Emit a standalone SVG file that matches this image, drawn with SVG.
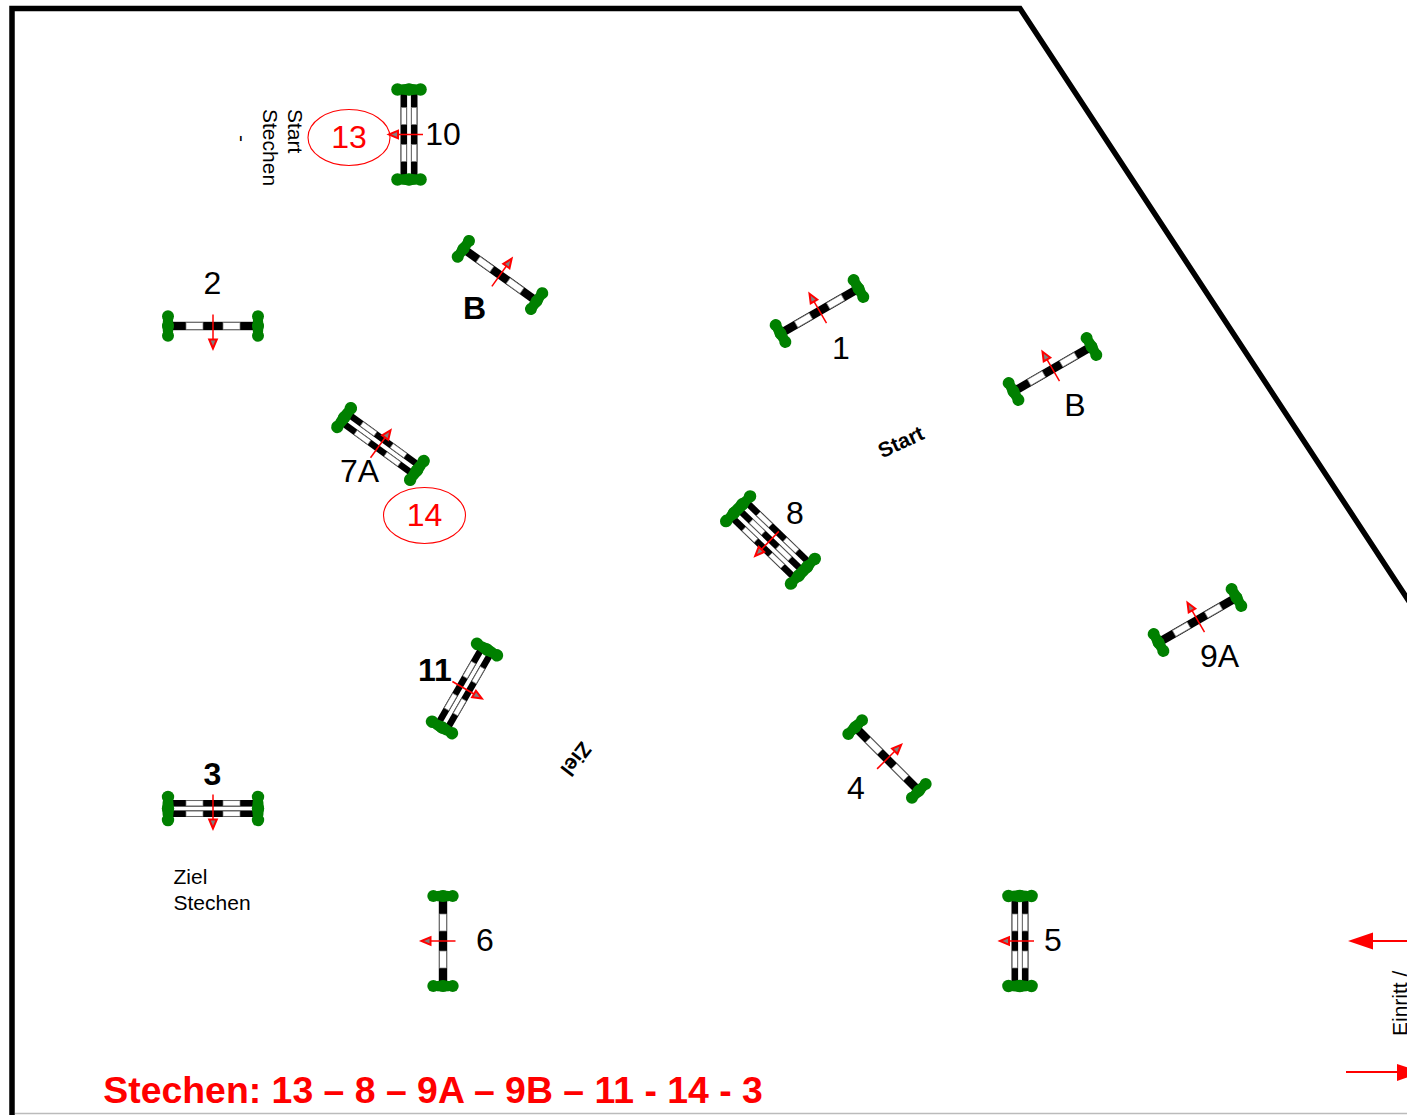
<svg xmlns="http://www.w3.org/2000/svg" xmlns:xlink="http://www.w3.org/1999/xlink" width="1407" height="1115" viewBox="0 0 1407 1115">
<style>
text{font-family:"Liberation Sans",Arial,sans-serif;fill:#000}
.n{font-size:32px;text-anchor:middle}
.b{font-weight:bold}
.r{fill:#f00}
.s{font-size:21px}
.t{fill:#008000}
.w{fill:#fff;stroke:#777;stroke-width:.7}
.a{stroke:#f00;stroke-width:1.5;fill:none}
.h{fill:#808080;stroke:#f00;stroke-width:2}
.o{fill:none;stroke:#f00;stroke-width:1.1}
.m{fill:#f00}
</style>
<defs>
<g id="bar8"><rect x="-41" y="-4.200" width="82" height="8.400" fill="#000"/><rect class="w" x="-27" y="-3.400" width="17" height="6.800"/><rect class="w" x="10" y="-3.400" width="17" height="6.800"/></g>
<g id="bar6"><rect x="-41" y="-3.300" width="82" height="6.600" fill="#000"/><rect class="w" x="-27" y="-2.600" width="17" height="5.200"/><rect class="w" x="10" y="-2.600" width="17" height="5.200"/></g>
<g id="t1" class="t"><ellipse cy="-9.700" rx="6" ry="6"/><ellipse rx="6" ry="6.500"/><ellipse cy="9.700" rx="6" ry="6"/><ellipse rx="5.500" ry="15"/></g>
<g id="t2" class="t"><ellipse cy="-11.500" rx="6.200" ry="6.300"/><ellipse rx="6.200" ry="6.500"/><ellipse cy="11.500" rx="6.200" ry="6.300"/><ellipse rx="5.800" ry="17"/></g>
<g id="t3" class="t"><ellipse cy="-17" rx="6.200" ry="6.500"/><ellipse cy="-6" rx="6.200" ry="6.500"/><ellipse cy="6" rx="6.200" ry="6.500"/><ellipse cy="17" rx="6.200" ry="6.500"/><ellipse rx="5.800" ry="22.500"/></g>
<g id="arrow"><path class="a" d="M0-14V12"/><path class="h" d="M0 20L-3.800 11H3.800Z"/></g>
<g id="j1"><use xlink:href="#bar8"/><use xlink:href="#t1" x="-45"/><use xlink:href="#t1" x="45"/></g>
<g id="j2"><use xlink:href="#bar6" y="-5.200"/><use xlink:href="#bar6" y="5.200"/><use xlink:href="#t2" x="-45"/><use xlink:href="#t2" x="45"/></g>
<g id="j3"><use xlink:href="#bar6" y="-10.500"/><use xlink:href="#bar6"/><use xlink:href="#bar6" y="10.500"/><use xlink:href="#t3" x="-45"/><use xlink:href="#t3" x="45"/></g>
</defs>
<g id="arena">
<path d="M12 1115V8.500H1020L1420 618" fill="none" stroke="#000" stroke-width="5.500"/>
<path d="M15 1113.500H1407" fill="none" stroke="#bbb" stroke-width="1.500"/>
</g>
<g id="jump-10"><g transform="translate(409 134.500) rotate(90)"><use xlink:href="#j2"/><use xlink:href="#arrow"/></g><text class="n" x="443" y="145">10</text></g>
<g id="label-13"><ellipse class="o" cx="349" cy="137.500" rx="41" ry="28"/><text class="n r" x="349" y="147.500">13</text></g>
<g id="start-stechen">
<text class="s" transform="translate(287.500 109) rotate(90)">Start</text>
<text class="s" transform="translate(262.500 109) rotate(90)">Stechen</text>
<text class="s" transform="translate(234.500 135) rotate(90)">-</text>
</g>
<g id="jump-2"><g transform="translate(213 326)"><use xlink:href="#j1"/><use xlink:href="#arrow" y="2.500"/></g><text class="n" x="212.500" y="294">2</text></g>
<g id="jump-b1"><g transform="translate(500 275) rotate(215.500)"><use xlink:href="#j1"/><use xlink:href="#arrow"/></g><text class="n b" x="474.500" y="319">B</text></g>
<g id="jump-1"><g transform="translate(819.500 311) rotate(150)"><use xlink:href="#j1"/><use xlink:href="#arrow"/></g><text class="n" x="841" y="359">1</text></g>
<g id="jump-b2"><g transform="translate(1052.500 369) rotate(150)"><use xlink:href="#j1"/><use xlink:href="#arrow"/></g><text class="n" x="1075" y="416">B</text></g>
<g id="jump-9a"><g transform="translate(1197.500 620) rotate(150)"><use xlink:href="#j1"/><use xlink:href="#arrow"/></g><text class="n" x="1219.500" y="667">9A</text></g>
<g id="jump-7a"><g transform="translate(380.500 444) rotate(216)"><use xlink:href="#j2"/><use xlink:href="#arrow" y="-3"/></g><text class="n" x="359.500" y="482">7A</text></g>
<g id="label-14"><ellipse class="o" cx="424.500" cy="515.500" rx="41" ry="28"/><text class="n r" x="424.500" y="525.500">14</text></g>
<g id="jump-8"><g transform="translate(770.500 540) rotate(44)"><use xlink:href="#j3"/><use xlink:href="#arrow" y="2"/></g><text class="n" x="795" y="524">8</text></g>
<g id="jump-11"><g transform="translate(464.500 688.500) rotate(-60)"><use xlink:href="#j2"/><use xlink:href="#arrow"/></g><text class="n b" x="435" y="681">11</text></g>
<g id="jump-4"><g transform="translate(887 759) rotate(225)"><use xlink:href="#j1"/><use xlink:href="#arrow"/></g><text class="n" x="856" y="799">4</text></g>
<g id="jump-3"><g transform="translate(213 808.500)"><use xlink:href="#j2"/><use xlink:href="#arrow"/></g><text class="n b" x="212.500" y="785">3</text></g>
<g id="jump-6"><g transform="translate(443 941) rotate(90)"><use xlink:href="#j1"/><use xlink:href="#arrow" y="1.500"/></g><text class="n" x="485" y="951">6</text></g>
<g id="jump-5"><g transform="translate(1020 941) rotate(90)"><use xlink:href="#j2"/><use xlink:href="#arrow"/></g><text class="n" x="1053" y="951">5</text></g>
<text class="b" font-size="21" transform="translate(901 442) rotate(-25)" text-anchor="middle" dy="7">Start</text>
<text class="b" font-size="21" transform="translate(576 759) rotate(128)" text-anchor="middle" dy="7">Ziel</text>
<g id="ziel-stechen"><text class="s" x="173.500" y="884">Ziel</text><text class="s" x="173.500" y="910">Stechen</text></g>
<text class="s" transform="translate(1407 1036) rotate(-90)">Einritt /</text>
<g id="connectors">
<path d="M1372 941H1407" stroke="#f00" stroke-width="2" fill="none"/><path class="m" d="M1348 941L1373 932.500V949.500Z"/>
<path d="M1346 1072H1400" stroke="#f00" stroke-width="2" fill="none"/><path class="m" d="M1397 1064V1081L1422 1072Z"/>
</g>
<text class="b r" font-size="37.400" x="103.300" y="1103">Stechen: 13 – 8 – 9A – 9B – 11 - 14 - 3</text>
</svg>
